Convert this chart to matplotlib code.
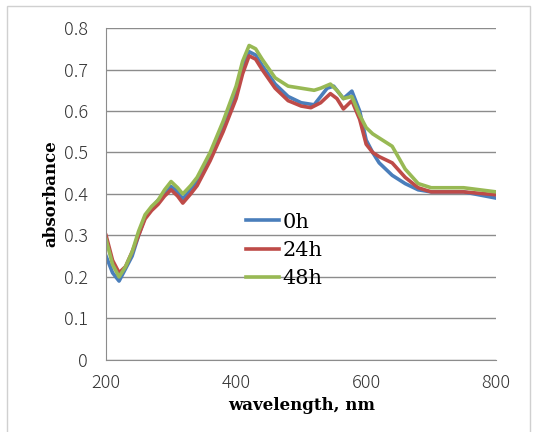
import matplotlib
matplotlib.use("Agg")
import matplotlib.pyplot as plt
from matplotlib.patches import Rectangle

# wavelength (nm) and absorbance
wl_0h = [200, 210, 220, 230, 240, 250, 260, 270, 280, 290, 300, 310, 318, 330, 340, 360, 380, 400, 410, 420,
         430, 440, 460, 480, 500, 520, 530, 540, 550, 565, 578, 590, 600, 610, 620, 640, 660, 680, 700, 750, 800]
abs_0h = [0.25, 0.21, 0.19, 0.22, 0.25, 0.30, 0.345, 0.365, 0.385, 0.40, 0.418, 0.405, 0.388, 0.41, 0.43, 0.49,
          0.56, 0.64, 0.70, 0.743, 0.735, 0.71, 0.665, 0.635, 0.62, 0.615, 0.635, 0.655, 0.66, 0.63, 0.648, 0.60,
          0.53, 0.50, 0.475, 0.445, 0.425, 0.41, 0.405, 0.405, 0.39]

wl_24h = [200, 210, 220, 230, 240, 250, 260, 270, 280, 290, 300, 310, 318, 330, 340, 360, 380, 400, 410, 420,
          430, 440, 460, 480, 500, 515, 530, 545, 555, 565, 578, 590, 600, 610, 620, 640, 660, 680, 700, 750, 800]
abs_24h = [0.30, 0.24, 0.21, 0.225, 0.26, 0.30, 0.34, 0.36, 0.375, 0.395, 0.41, 0.395, 0.378, 0.40, 0.42, 0.48,
           0.55, 0.63, 0.69, 0.733, 0.725, 0.70, 0.655, 0.625, 0.612, 0.608, 0.62, 0.642, 0.63, 0.605, 0.625, 0.58,
           0.52, 0.50, 0.49, 0.475, 0.44, 0.415, 0.405, 0.405, 0.398]

wl_48h = [200, 210, 220, 230, 240, 250, 260, 270, 280, 290, 300, 310, 318, 330, 340, 360, 380, 400, 410, 420,
          430, 440, 460, 480, 500, 520, 530, 545, 555, 565, 578, 590, 600, 610, 620, 640, 660, 680, 700, 750, 800]
abs_48h = [0.29, 0.23, 0.20, 0.225, 0.26, 0.31, 0.35, 0.37, 0.385, 0.41, 0.43, 0.415, 0.40, 0.42, 0.44, 0.50,
           0.575, 0.66, 0.72, 0.758, 0.75, 0.725, 0.68, 0.66, 0.655, 0.65, 0.655, 0.665, 0.65, 0.63, 0.635, 0.59,
           0.56, 0.545, 0.535, 0.515, 0.46, 0.425, 0.415, 0.415, 0.405]

labels = ["0h", "24h", "48h"]
colors = ["#4a7ebb", "#be4b48", "#98b954"]

fig = plt.figure(figsize=(5.33, 4.32), dpi=100)
ax = fig.add_axes([0.199, 0.167, 0.732, 0.768])

for wl, ab, lab, c in zip([wl_0h, wl_24h, wl_48h], [abs_0h, abs_24h, abs_48h], labels, colors):
    ax.plot(wl, ab, color=c, lw=2.6, label=lab, solid_joinstyle="round")

ax.set_xlim(200, 800)
ax.set_ylim(0, 0.8)
ax.set_xticks([200, 400, 600, 800])
ax.set_yticks([0, 0.1, 0.2, 0.3, 0.4, 0.5, 0.6, 0.7, 0.8])
ax.set_yticklabels(["0", "0.1", "0.2", "0.3", "0.4", "0.5", "0.6", "0.7", "0.8"])
ax.grid(axis="y", color="#8c8c8c", lw=1)
ax.set_axisbelow(True)
for s in ["top", "right"]:
    ax.spines[s].set_visible(False)
for s in ["left", "bottom"]:
    ax.spines[s].set_color("#8c8c8c")
ax.tick_params(length=0, labelsize=13, colors="#333333")
ax.tick_params(axis="y", pad=13)
ax.tick_params(axis="x", pad=10)
for t in ax.get_xticklabels() + ax.get_yticklabels():
    t.set_family("Noto Sans CJK JP")
    t.set_fontweight("light")

ax.set_xlabel("wavelength, nm", family="DejaVu Serif", weight="bold", fontsize=12, labelpad=4)
ax.set_ylabel("absorbance", family="DejaVu Serif", weight="bold", fontsize=12, labelpad=3)

ax.legend(loc="upper left", bbox_to_anchor=(0.31, 0.50), frameon=False, handlelength=1.6,
          handletextpad=0.15, labelspacing=0.45, prop={"family": "DejaVu Serif", "size": 15})

fig.add_artist(Rectangle((0.014, -0.01), 0.98, 0.995, transform=fig.transFigure,
                         fill=False, edgecolor="#d0d0d0", lw=1))

fig.savefig("out.png", dpi=100)
